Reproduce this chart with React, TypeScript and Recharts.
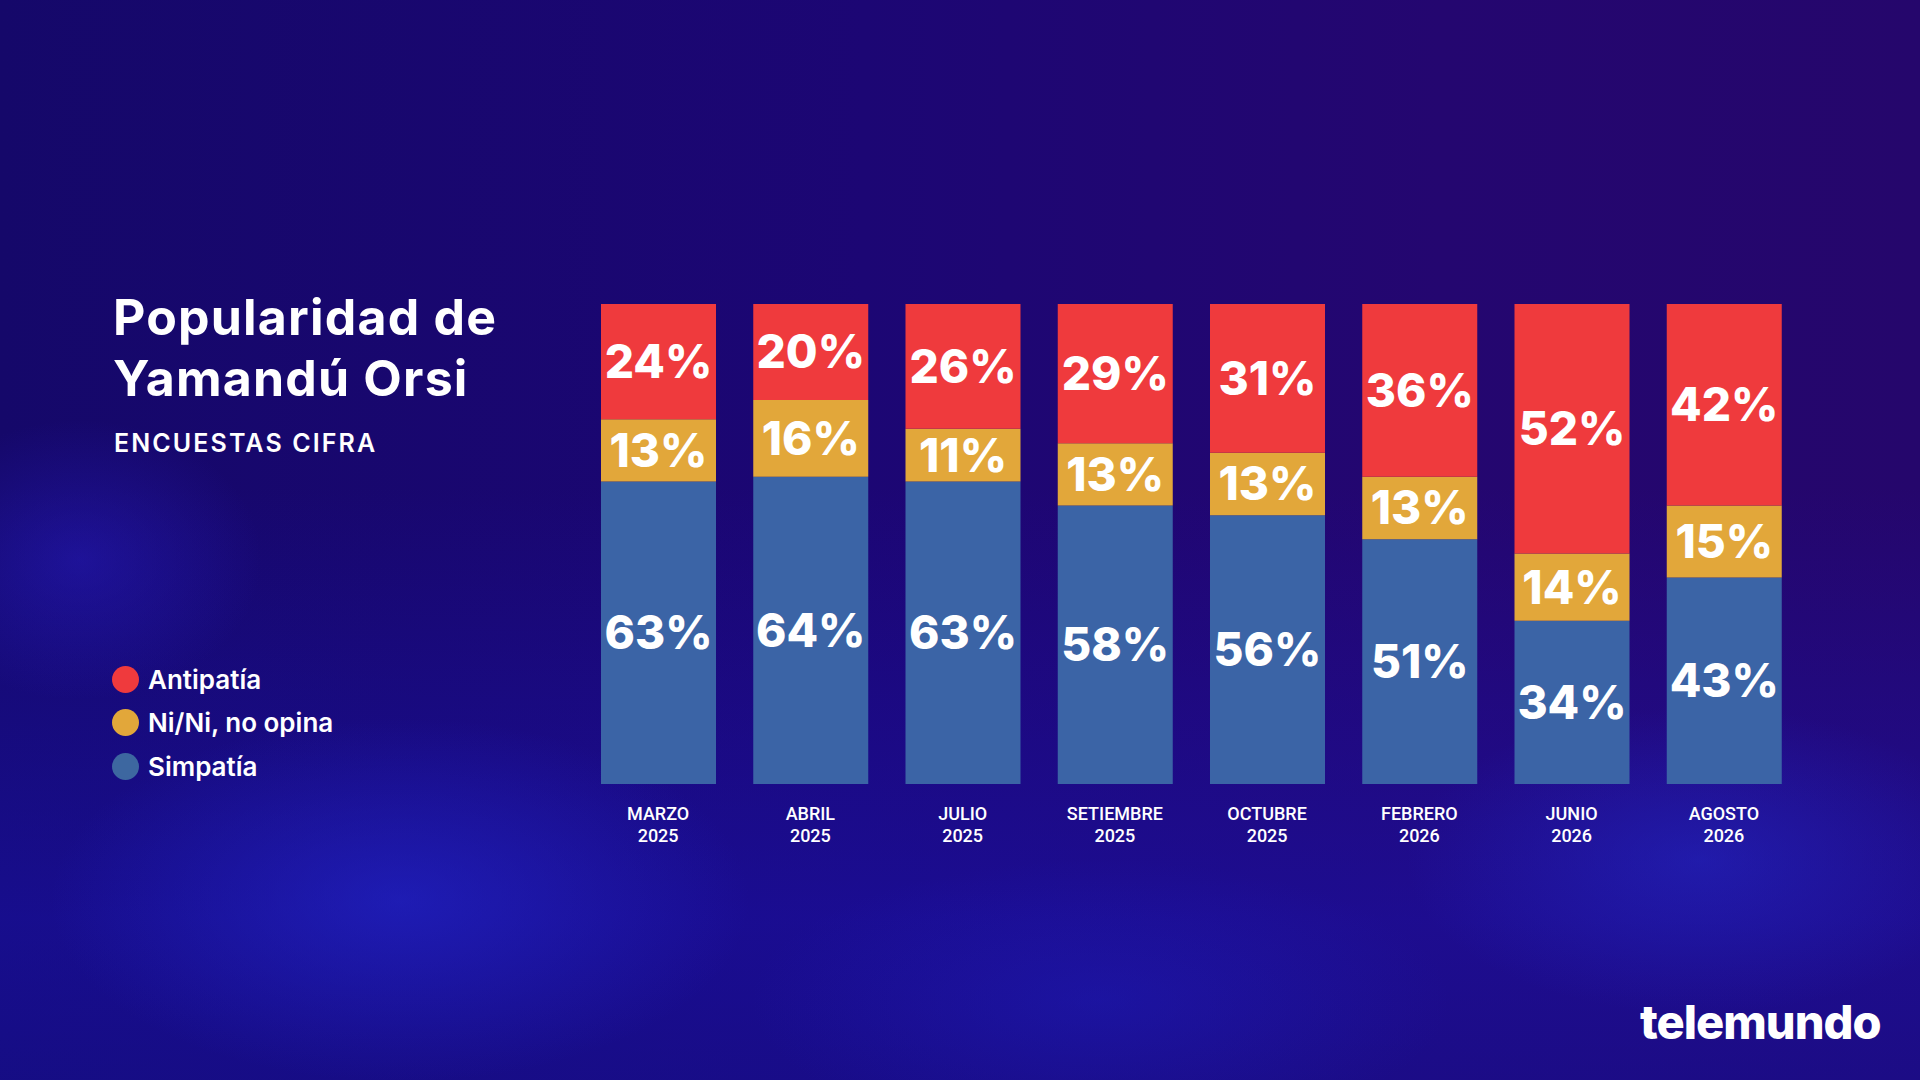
import React from 'react';
import { BarChart, Bar, XAxis, YAxis, LabelList } from 'recharts';

const months = ['MARZO', 'ABRIL', 'JULIO', 'SETIEMBRE', 'OCTUBRE', 'FEBRERO', 'JUNIO', 'AGOSTO'];
const years = ['2025', '2025', '2025', '2025', '2025', '2026', '2026', '2026'];
const antipatia = [24, 20, 26, 29, 31, 36, 52, 42];
const nini = [13, 16, 11, 13, 13, 13, 14, 15];
const simpatia = [63, 64, 63, 58, 56, 51, 34, 43];

const seriesNames = ['Antipatía', 'Ni/Ni, no opina', 'Simpatía'];
const colors = { red: '#EF3A3D', yellow: '#E2A73A', blue: '#3B64A6' };

const data = months.map((m, i) => ({
  key: `${m} ${years[i]}`,
  month: m,
  year: years[i],
  simpatia: simpatia[i],
  nini: nini[i],
  antipatia: antipatia[i],
}));

const FONT = 'Inter, "Noto Sans", sans-serif';

const Tick = (props: any) => {
  const { x, y, index } = props;
  return (
    <text x={x} y={y} textAnchor="middle" fill="#ffffff" fontFamily="Roboto, sans-serif" fontWeight={500} fontSize={18}>
      <tspan x={x} dy={36}>{months[index]}</tspan>
      <tspan x={x} dy={22}>{years[index]}</tspan>
    </text>
  );
};

const labelFmt = (v: any) => `${v}%`;
const labelStyle = { fill: '#ffffff', fontFamily: FONT, fontWeight: 800, fontSize: 46 } as any;

export default function App() {
  const legend = [
    { name: seriesNames[0], color: colors.red },
    { name: seriesNames[1], color: colors.yellow },
    { name: seriesNames[2], color: '#3D67A0' },
  ];
  const legendY = [679, 722, 766];
  return (
    <div
      style={{
        position: 'fixed',
        left: 0,
        top: 0,
        width: 1920,
        height: 1080,
        overflow: 'hidden',
        fontFamily: FONT,
        background:
          'radial-gradient(ellipse 260px 200px at 80px 560px, rgba(40,30,200,0.45), rgba(0,0,0,0) 70%),' +
          'radial-gradient(ellipse 500px 260px at 400px 900px, rgba(35,40,210,0.55), rgba(0,0,0,0) 70%),' +
          'radial-gradient(ellipse 420px 220px at 1700px 860px, rgba(35,45,210,0.45), rgba(0,0,0,0) 70%),' +
          'radial-gradient(ellipse 500px 200px at 1100px 1000px, rgba(30,30,190,0.4), rgba(0,0,0,0) 70%),' +
          'linear-gradient(180deg, rgba(0,0,0,0) 45%, rgba(25,18,170,0.55) 85%, rgba(22,16,150,0.6) 100%),' +
          'linear-gradient(90deg, #15086a 0%, #1c0674 45%, #240670 75%, #25066c 100%)',
      }}
    >
      <div
        style={{
          position: 'absolute',
          left: 113,
          top: 287,
          color: '#ffffff',
          fontSize: 50,
          fontWeight: 700,
          lineHeight: '61px',
          letterSpacing: 1.2,
          whiteSpace: 'nowrap',
        }}
      >
        <div>Popularidad de</div>
        <div>Yamandú Orsi</div>
      </div>
      <div
        style={{
          position: 'absolute',
          left: 114,
          top: 428,
          color: '#ffffff',
          fontSize: 25,
          fontWeight: 600,
          lineHeight: '30px',
          letterSpacing: 2.1,
          whiteSpace: 'nowrap',
        }}
      >
        ENCUESTAS CIFRA
      </div>
      {legend.map((l, i) => (
        <div
          key={l.name}
          style={{
            position: 'absolute',
            left: 112,
            top: legendY[i] - 16,
            height: 32,
            display: 'flex',
            alignItems: 'center',
            color: '#ffffff',
            fontSize: 26,
            fontWeight: 600,
            whiteSpace: 'nowrap',
          }}
        >
          <span
            style={{
              display: 'inline-block',
              width: 27,
              height: 27,
              borderRadius: '50%',
              background: l.color,
              marginRight: 9,
            }}
          />
          <span>{l.name}</span>
        </div>
      ))}
      <div style={{ position: 'absolute', left: 0, top: 0 }}>
        <BarChart
          width={1920}
          height={1080}
          data={data}
          margin={{ top: 304, right: 120, bottom: 236, left: 582 }}
        >
          <XAxis
            dataKey="key"
            tick={<Tick />}
            tickLine={false}
            axisLine={false}
            tickSize={0}
            tickMargin={0}
            height={60}
            interval={0}
          />
          <YAxis hide domain={[0, 100]} type="number" />
          <Bar dataKey="simpatia" name={seriesNames[2]} stackId="a" fill={colors.blue} barSize={115} isAnimationActive={false}>
            <LabelList dataKey="simpatia" position="center" formatter={labelFmt} style={labelStyle} />
          </Bar>
          <Bar dataKey="nini" name={seriesNames[1]} stackId="a" fill={colors.yellow} barSize={115} isAnimationActive={false}>
            <LabelList dataKey="nini" position="center" formatter={labelFmt} style={labelStyle} />
          </Bar>
          <Bar dataKey="antipatia" name={seriesNames[0]} stackId="a" fill={colors.red} barSize={115} isAnimationActive={false}>
            <LabelList dataKey="antipatia" position="center" formatter={labelFmt} style={labelStyle} />
          </Bar>
        </BarChart>
      </div>
      <div
        style={{
          position: 'absolute',
          left: 1640,
          top: 994,
          color: '#ffffff',
          fontSize: 47,
          fontWeight: 800,
          letterSpacing: -1,
          lineHeight: '56px',
          whiteSpace: 'nowrap',
        }}
      >
        telemundo
      </div>
    </div>
  );
}
